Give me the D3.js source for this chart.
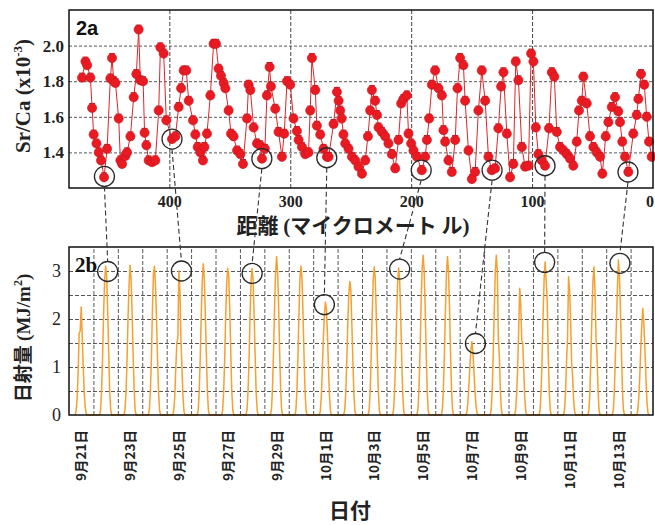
<!DOCTYPE html>
<html><head><meta charset="utf-8">
<script src="https://cdn.jsdelivr.net/npm/d3@7"></script>
<style>
html,body{margin:0;padding:0;background:#fff;}
svg{display:block;}
</style></head>
<body>
<svg id="c" width="655" height="525"></svg>
<script>
// ---------- DATA ----------
// Panel 2a: distance (µm) and Sr/Ca (x10^-3)
const distance = [472.2,469.4,468.0,465.3,463.9,462.6,460.3,458.4,456.5,454.0,451.5,448.8,447.4,446.0,444.6,441.9,440.5,439.1,436.4,435.0,432.2,429.5,427.3,425.4,424.0,421.7,420.5,419.0,417.1,414.3,411.6,408.8,407.4,404.7,402.5,397.8,395.0,392.3,390.3,388.2,386.0,384.0,380.4,378.5,376.6,374.4,372.2,371.0,368.9,366.1,363.4,361.4,359.3,357.3,355.1,353.7,351.0,349.0,346.9,344.0,341.3,339.1,335.8,334.5,333.0,330.3,327.5,
325.0,323.4,321.0,319.3,317.1,316.0,312.4,309.7,306.9,305.0,302.7,300.0,297.3,294.5,293.1,290.3,287.6,284.9,283.5,282.1,279.3,278.0,275.2,272.5,269.7,
268.3,264.2,261.4,260.0,258.7,257.5,256.0,254.5,251.8,249.0,246.3,243.6,240.7,238.0,235.8,233.9,232.5,229.8,228.3,227.0,224.2,221.5,218.8,216.0,213.2,210.5,208.3,206.4,203.6,202.2,200.0,198.1,195.3,191.2,188.4,187.0,185.1,182.9,180.2,177.4,174.6,173.3,171.9,169.2,166.4,163.6,161.7,159.5,156.8,155.4,152.6,149.8,147.1,144.4,141.6,138.8,136.1,133.3,130.6,127.9,125.6,123.7,120.9,118.2,115.5,113.5,111.3,108.5,105.8,103.0,100.8,98.9,96.9,94.8,92.0,89.3,86.0,83.7,81.6,79.6,76.9,74.1,71.3,68.6,65.9,63.1,61.2,58.9,57.6,54.8,52.1,49.3,46.5,43.8,41.9,39.1,36.9,34.1,31.4,28.7,27.3,25.4,23.1,20.4,16.3,13.5,12.1,9.9,7.2,5.2,3.3,1.1];
const srca = [1.82,1.91,1.89,1.82,1.65,1.50,1.45,1.40,1.355,1.26,1.42,1.815,1.93,1.80,1.79,1.59,1.355,1.335,1.38,1.40,1.49,1.71,1.84,2.09,1.805,1.80,1.51,1.44,1.355,1.345,1.355,1.635,1.99,1.955,1.58,1.475,1.49,1.655,1.76,1.86,1.86,1.69,1.58,1.50,1.43,1.40,1.355,1.43,1.505,1.72,2.01,2.01,1.87,1.83,1.79,1.76,1.635,1.505,1.49,1.41,1.39,1.335,1.59,1.78,1.75,1.54,1.45,
1.44,1.365,1.42,1.72,1.88,1.77,1.645,1.515,1.375,1.505,1.80,1.78,1.59,1.52,1.47,1.43,1.39,1.40,1.635,1.93,1.75,1.55,1.50,1.42,1.375,
1.375,1.56,1.74,1.69,1.635,1.59,1.50,1.45,1.42,1.375,1.355,1.32,1.28,1.355,1.49,1.635,1.75,1.69,1.61,1.54,1.515,1.49,1.45,1.39,1.31,1.47,1.675,1.70,1.72,1.505,1.45,1.41,1.375,1.30,1.375,1.47,1.59,1.78,1.86,1.76,1.72,1.525,1.46,1.355,1.29,1.47,1.76,1.93,1.89,1.69,1.41,1.25,1.29,1.635,1.86,1.69,1.375,1.30,1.31,1.535,1.77,1.85,1.505,1.26,1.335,1.91,1.805,1.43,1.32,1.325,1.955,1.91,1.54,1.39,1.355,1.325,1.535,1.85,1.825,1.515,1.43,1.41,1.39,1.365,1.325,1.46,1.635,1.69,1.825,1.675,1.49,1.43,1.40,1.375,1.28,1.49,1.57,1.655,1.71,1.63,1.57,1.46,1.375,1.29,1.505,1.61,1.70,1.84,1.78,1.60,1.46,1.375];
const srcaErr = 0.025;
const topCircleDist = [453.7,397.8,323.5,269.8,191.7,133.1,89.3,20.7];
const topCircleVal  = [1.265,1.475,1.365,1.37,1.30,1.30,1.325,1.29];
const xTicksTop = [400,300,200,100,0];
const yTicksTop = [1.4,1.6,1.8,2.0];

// Panel 2b: hourly solar radiation (MJ/m2), hours 6..18, one row per day from Sep 21
const solarStart = "2008-09-21";
const solarHours = [6,7,8,9,10,11,12,13,14,15,16,17,18];
const solarDays = [
 [0,0.08,0.35,0.9,1.7,1.75,2.25,1.65,1.0,0.45,0.15,0.03,0],
 [0,0.1,0.5,1.2,2.1,2.8,3.1,2.9,2.2,1.3,0.5,0.1,0],
 [0,0.1,0.45,1.1,2.0,2.7,3.12,2.85,2.15,1.3,0.55,0.1,0],
 [0,0.12,0.5,1.2,2.2,2.95,3.1,2.7,2.0,1.2,0.5,0.1,0],
 [0,0.1,0.4,1.0,1.5,1.6,3.0,2.6,1.6,1.0,0.4,0.08,0],
 [0,0.1,0.5,1.2,2.1,2.8,3.15,2.85,2.1,1.25,0.5,0.1,0],
 [0,0.1,0.48,1.15,2.05,2.75,3.05,2.9,2.2,1.3,0.5,0.1,0],
 [0,0.12,0.5,1.2,2.1,2.8,3.05,2.8,2.05,1.2,0.45,0.08,0],
 [0,0.12,0.55,1.3,2.2,2.95,3.3,3.0,2.3,1.35,0.55,0.1,0],
 [0,0.1,0.5,1.2,2.1,2.85,3.1,2.85,2.1,1.25,0.5,0.1,0],
 [0,0.08,0.4,0.95,1.6,2.1,2.35,2.2,1.7,1.0,0.4,0.08,0],
 [0,0.1,0.45,1.1,1.9,2.5,2.78,2.6,1.9,1.15,0.45,0.08,0],
 [0,0.1,0.5,1.2,2.1,2.8,3.09,2.85,2.1,1.25,0.5,0.1,0],
 [0,0.1,0.5,1.15,2.05,2.75,3.06,2.8,2.1,1.2,0.45,0.08,0],
 [0,0.12,0.55,1.3,2.25,3.0,3.33,3.05,2.3,1.35,0.55,0.1,0],
 [0,0.12,0.55,1.3,2.2,2.95,3.3,3.0,2.25,1.3,0.5,0.1,0],
 [0,0.05,0.25,0.6,1.0,1.35,1.53,1.3,0.9,0.5,0.2,0.04,0],
 [0,0.12,0.55,1.3,2.2,3.0,3.33,3.0,1.6,1.2,0.5,0.1,0],
 [0,0.1,0.45,1.0,1.8,2.64,2.3,1.55,1.5,0.9,0.35,0.06,0],
 [0,0.1,0.5,1.2,2.1,2.85,3.19,2.8,2.4,1.3,0.5,0.1,0],
 [0,0.1,0.45,1.1,1.6,2.88,2.6,2.0,1.1,0.8,0.3,0.06,0],
 [0,0.1,0.5,1.2,2.1,2.8,3.09,2.6,1.6,1.25,0.5,0.1,0],
 [0,0.1,0.5,1.2,1.9,2.6,3.23,2.9,2.2,1.3,0.5,0.1,0],
 [0,0.08,0.35,0.8,1.4,1.9,2.22,1.9,1.4,0.8,0.3,0.05,0]
];
const botCircleTime = ["2008-09-22T14:00","2008-09-25T14:30","2008-09-28T12:00","2008-10-01T11:00","2008-10-04T13:00","2008-10-07T15:30","2008-10-10T11:30","2008-10-13T13:30"];
const botCircleVal  = [2.99,3.0,2.95,2.3,3.04,1.49,3.18,3.16];
const xTickDatesBot = ["2008-09-21","2008-09-23","2008-09-25","2008-09-27","2008-09-29","2008-10-01","2008-10-03","2008-10-05","2008-10-07","2008-10-09","2008-10-11","2008-10-13"];
const yTicksBot = [0,1,2,3];
const yGridBot = [0.5,1,1.5,2,2.5,3];

// ---------- DRAW ----------
const svg = d3.select("#c");
const L = 69, R = 653;
const T1 = 10, B1 = 188, T2 = 247, B2 = 415;
const serif = "'Liberation Serif','Times New Roman',serif";
const sans = "'Liberation Sans',Arial,sans-serif";
const cjk = "'Noto Sans CJK JP','Noto Sans',sans-serif";
const parseT = d3.timeParse("%Y-%m-%dT%H:%M");
const parseD = d3.timeParse("%Y-%m-%d");

const xTop = d3.scaleLinear().domain([483,0]).range([L,R]);
const yTop = d3.scaleLinear().domain([1.2,2.2]).range([B1,T1]);
const t0 = parseD(solarStart);
const xBot = d3.scaleTime().domain([t0, d3.timeHour.offset(t0, 23*24+22)]).range([L,R]);
const yBot = d3.scaleLinear().domain([0,3.5]).range([B2,T2]);

const gridColor = "#444";

// ---- Top panel grid
const gTop = svg.append("g");
gTop.append("g").attr("transform",`translate(${L},0)`)
  .call(d3.axisLeft(yTop).tickValues(yTicksTop).tickSize(-(R-L)).tickFormat(""))
  .call(g=>g.select(".domain").remove())
  .selectAll("line").attr("stroke",gridColor).attr("stroke-dasharray","3,2").attr("stroke-width",0.9);
gTop.append("g").attr("transform",`translate(0,${B1})`)
  .call(d3.axisBottom(xTop).tickValues([400,300,200,100]).tickSize(-(B1-T1)).tickFormat(""))
  .call(g=>g.select(".domain").remove())
  .selectAll("line").attr("stroke",gridColor).attr("stroke-dasharray","4,2").attr("stroke-width",1);

// ---- Top panel data
const pts = distance.map((d,i)=>({d, v:srca[i]}));
gTop.append("path").datum(pts)
  .attr("fill","none").attr("stroke","#e0242a").attr("stroke-width",1)
  .attr("d", d3.line().x(p=>xTop(p.d)).y(p=>yTop(p.v)));
const eb = gTop.append("g").attr("stroke","#a8161c").attr("stroke-width",0.9);
pts.forEach(p=>{
  const x = xTop(p.d), y1 = yTop(p.v+srcaErr), y2 = yTop(p.v-srcaErr);
  eb.append("line").attr("x1",x).attr("x2",x).attr("y1",y1).attr("y2",y2);
  eb.append("line").attr("x1",x-3).attr("x2",x+3).attr("y1",y1).attr("y2",y1);
});
gTop.append("g").selectAll("circle").data(pts).join("circle")
  .attr("cx",p=>xTop(p.d)).attr("cy",p=>yTop(p.v)).attr("r",4.6)
  .attr("fill","#ea1a22").attr("stroke","#c8141c").attr("stroke-width",0.6);

// top frame
svg.append("rect").attr("x",L).attr("y",T1).attr("width",R-L).attr("height",B1-T1)
  .attr("fill","none").attr("stroke","#111").attr("stroke-width",1.5);

// top axes labels
svg.append("g").attr("transform",`translate(${L},0)`)
  .call(d3.axisLeft(yTop).tickValues(yTicksTop).tickSize(0).tickPadding(5).tickFormat(d3.format(".1f")))
  .call(g=>g.select(".domain").remove())
  .selectAll("text").attr("font-family",serif).attr("font-weight","bold").attr("font-size",17).attr("fill","#222");
svg.append("g").attr("transform",`translate(0,${B1})`)
  .call(d3.axisBottom(xTop).tickValues(xTicksTop).tickSize(0).tickPadding(8))
  .call(g=>g.select(".domain").remove())
  .selectAll("text").attr("font-family",serif).attr("font-weight","bold").attr("font-size",16).attr("fill","#222")
  .attr("text-anchor",d=>d===0?"end":"middle").attr("dx",d=>d===0?"0.5":"0");

svg.append("text").attr("x",76).attr("y",35).text("2a")
  .attr("font-family",sans).attr("font-weight","bold").attr("font-size",20).attr("fill","#111");

const yl1 = svg.append("text").attr("transform",`translate(30,${(T1+B1)/2-3}) rotate(-90)`)
  .attr("text-anchor","middle").attr("font-family",serif).attr("font-weight","bold").attr("font-size",21).attr("fill","#222");
yl1.append("tspan").text("Sr/Ca (x10");
yl1.append("tspan").text("-3").attr("font-size",13).attr("dy",-8);
yl1.append("tspan").text(")").attr("dy",8);

const xl1 = svg.append("text").attr("x",353).attr("y",233).attr("text-anchor","middle")
  .attr("font-size",21).attr("font-weight","bold").attr("fill","#222");
xl1.append("tspan").attr("font-family",cjk).text("距離 ");
xl1.append("tspan").attr("font-family",serif).text("(");
xl1.append("tspan").attr("font-family",cjk).text("マイクロメート ル");
xl1.append("tspan").attr("font-family",serif).text(")");

// ---- Bottom panel grid
const gBot = svg.append("g");
gBot.append("g").attr("transform",`translate(${L},0)`)
  .call(d3.axisLeft(yBot).tickValues(yGridBot).tickSize(-(R-L)).tickFormat(""))
  .call(g=>g.select(".domain").remove())
  .selectAll("line").attr("stroke",gridColor).attr("stroke-dasharray","4,2").attr("stroke-width",0.9);
const midnights = d3.timeDay.range(d3.timeDay.offset(t0,1), xBot.domain()[1]);
gBot.append("g").attr("transform",`translate(0,${B2})`)
  .call(d3.axisBottom(xBot).tickValues(midnights).tickSize(-(B2-T2)).tickFormat(""))
  .call(g=>g.select(".domain").remove())
  .selectAll("line").attr("stroke",gridColor).attr("stroke-dasharray","4,2").attr("stroke-width",0.9);

// ---- Bottom panel data
const solar = [];
solarDays.forEach((row,di)=>{
  const day = d3.timeDay.offset(t0, di);
  row.forEach((v,hi)=>solar.push({t:d3.timeHour.offset(day, solarHours[hi]), v}));
});
gBot.append("path").datum(solar)
  .attr("fill","none").attr("stroke","#f5a030").attr("stroke-width",1.5).attr("stroke-linejoin","round")
  .attr("d", d3.line().x(p=>xBot(p.t)).y(p=>yBot(p.v)));

// bottom frame
svg.append("rect").attr("x",L).attr("y",T2).attr("width",R-L).attr("height",B2-T2)
  .attr("fill","none").attr("stroke","#111").attr("stroke-width",1.5);

svg.append("g").attr("transform",`translate(${L},0)`)
  .call(d3.axisLeft(yBot).tickValues(yTicksBot).tickSize(0).tickPadding(8).tickFormat(d3.format("d")))
  .call(g=>g.select(".domain").remove())
  .selectAll("text").attr("font-family",serif).attr("font-size",18).attr("fill","#222");

const labelDates = xTickDatesBot.map(s=>d3.timeHour.offset(parseD(s),12));
svg.append("g").attr("transform",`translate(0,${B2})`)
  .call(d3.axisBottom(xBot).tickValues(labelDates).tickSize(0)
    .tickFormat(d=>`${d.getMonth()+1}月${d.getDate()}日`))
  .call(g=>g.select(".domain").remove())
  .selectAll("text")
    .attr("font-family",cjk).attr("font-weight","bold").attr("font-size",13.5).attr("fill","#222")
    .attr("text-anchor","end").attr("transform","rotate(-90)")
    .attr("x",-15).attr("y",0).attr("dy","0.35em");

svg.append("text").attr("x",75).attr("y",272).text("2b")
  .attr("font-family",serif).attr("font-weight","bold").attr("font-size",21).attr("fill","#111");

const yl2 = svg.append("text").attr("transform",`translate(30,${(T2+B2)/2+7}) rotate(-90)`)
  .attr("text-anchor","middle").attr("font-size",19).attr("font-weight","bold").attr("fill","#222");
yl2.append("tspan").attr("font-family",cjk).text("日射量 ");
yl2.append("tspan").attr("font-family",serif).text("(MJ/m");
yl2.append("tspan").attr("font-family",serif).text("2").attr("font-size",12).attr("dy",-8);
yl2.append("tspan").attr("font-family",serif).text(")").attr("dy",8);

svg.append("text").attr("x",350).attr("y",518).attr("text-anchor","middle").text("日付")
  .attr("font-family",cjk).attr("font-weight","bold").attr("font-size",21).attr("fill","#222");

// ---- Highlight circles and connectors
const rC = 10;
const topC = topCircleDist.map((d,i)=>({x:xTop(d), y:yTop(topCircleVal[i])}));
const botC = botCircleTime.map((s,i)=>({x:xBot(parseT(s)), y:yBot(botCircleVal[i])}));
const conn = svg.append("g").attr("stroke","#333").attr("stroke-width",1.1).attr("stroke-dasharray","5,3");
topC.forEach((p,i)=>{
  const q = botC[i];
  conn.append("line").attr("x1",p.x).attr("y1",p.y+rC).attr("x2",q.x).attr("y2",q.y-rC);
});
svg.append("g").selectAll("circle").data(topC.concat(botC)).join("circle")
  .attr("cx",p=>p.x).attr("cy",p=>p.y).attr("r",rC)
  .attr("fill","none").attr("stroke","#2a2a2a").attr("stroke-width",1.3);
</script>
</body></html>
